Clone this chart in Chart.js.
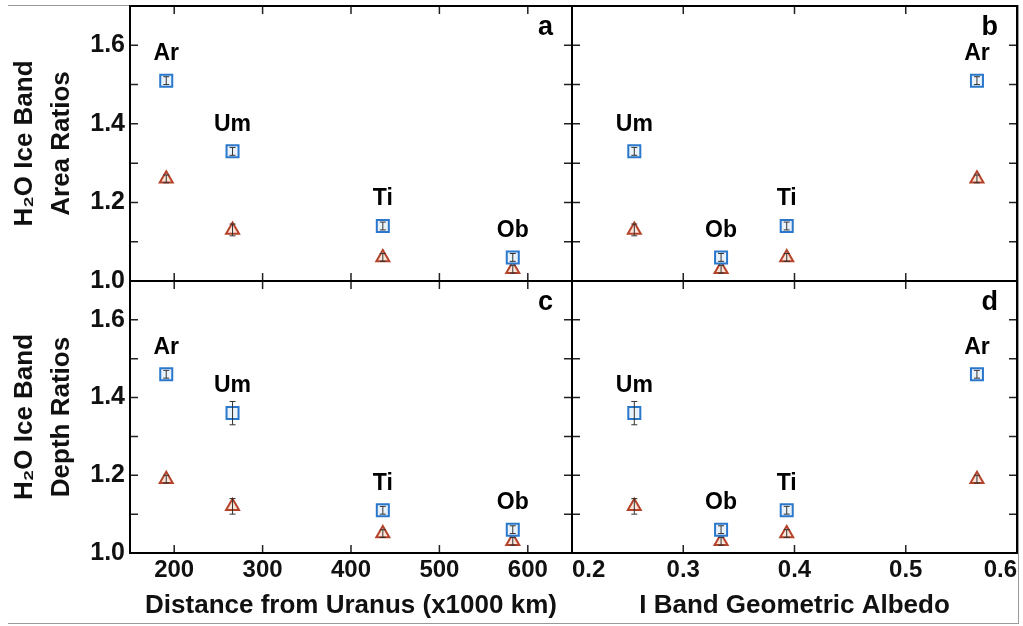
<!DOCTYPE html>
<html>
<head>
<meta charset="utf-8">
<script src="https://cdn.jsdelivr.net/npm/chart.js@4/dist/chart.umd.min.js"></script>
<style>
  body { margin: 0; background: #fff; }
  #wrap { position: relative; width: 1023px; height: 626px; overflow: hidden; }
  #wrap canvas { position: absolute; left: 0; top: 0; }
  #frame { position: absolute; left: 8px; top: 5px; width: 1010px; height: 617px;
           border-top: 1px solid #9a9a9a; border-right: 1px solid #9a9a9a; border-bottom: 1px solid #9a9a9a; }
</style>
</head>
<body>
<div id="wrap">
  <div id="frame"></div>
  <canvas id="panelA" width="1023" height="626"></canvas>
  <canvas id="panelB" width="1023" height="626"></canvas>
  <canvas id="panelC" width="1023" height="626"></canvas>
  <canvas id="panelD" width="1023" height="626"></canvas>
</div>
<script>
// moons, in the same order in every array
const moons = ['Ar', 'Um', 'Ti', 'Ob'];
const distance = [191, 266, 436, 583];        // x1000 km
const albedo = [0.564, 0.256, 0.393, 0.334];  // I band geometric albedo

// H2O ice band area ratios
const areaBlue = [1.51, 1.33, 1.14, 1.06];
const areaRed = [1.26, 1.13, 1.06, 1.03];
const areaBlueErr = [0.01, 0.01, 0.01, 0.01];
const areaRedErr = [0.01, 0.015, 0.01, 0.01];

// H2O ice band depth ratios
const depthBlue = [1.46, 1.36, 1.11, 1.06];
const depthRed = [1.19, 1.12, 1.05, 1.03];
const depthBlueErr = [0.01, 0.03, 0.01, 0.01];
const depthRedErr = [0.01, 0.02, 0.01, 0.01];

// axes
const distTicks = [200, 300, 400, 500, 600];
const albedoTicks = [0.2, 0.3, 0.4, 0.5, 0.6];
const ratioTicks = [1.0, 1.1, 1.2, 1.3, 1.4, 1.5, 1.6, 1.7];
const ratioLabels = ['1.0', '', '1.2', '', '1.4', '', '1.6', ''];

Chart.defaults.font.family = '"Liberation Sans", Arial, sans-serif';
Chart.defaults.color = '#111';

const BLUE = '#2a78cc';
const RED = '#b5432b';

function pts(xs, ys) {
  return xs.map((x, i) => ({ x: x, y: ys[i] }));
}

// border, inward ticks, error bars, moon names and panel letter
const panelDeco = {
  id: 'panelDeco',
  afterDatasetsDraw(chart, args, opts) {
    const ctx = chart.ctx;
    const a = chart.chartArea;
    const xs = chart.scales.x, ys = chart.scales.y;
    ctx.save();
    // error bars
    ctx.strokeStyle = '#333';
    ctx.lineWidth = 1;
    opts.errors.forEach((errs, di) => {
      const d = chart.data.datasets[di].data;
      d.forEach((p, i) => {
        const px = xs.getPixelForValue(p.x);
        const y1 = ys.getPixelForValue(p.y + errs[i]);
        const y2 = ys.getPixelForValue(p.y - errs[i]);
        ctx.beginPath();
        ctx.moveTo(px, y1); ctx.lineTo(px, y2);
        ctx.moveTo(px - 3, y1); ctx.lineTo(px + 3, y1);
        ctx.moveTo(px - 3, y2); ctx.lineTo(px + 3, y2);
        ctx.stroke();
      });
    });
    // inward ticks
    ctx.strokeStyle = '#222';
    ctx.lineWidth = 1.5;
    const len = 8;
    xs.ticks.forEach(t => {
      const px = xs.getPixelForValue(t.value);
      if (px <= a.left + 1 || px >= a.right - 1) return;
      ctx.beginPath();
      ctx.moveTo(px, a.bottom); ctx.lineTo(px, a.bottom - len);
      ctx.moveTo(px, a.top); ctx.lineTo(px, a.top + len);
      ctx.stroke();
    });
    ys.ticks.forEach(t => {
      const py = ys.getPixelForValue(t.value);
      if (py <= a.top + 1 || py >= a.bottom - 1) return;
      ctx.beginPath();
      ctx.moveTo(a.left, py); ctx.lineTo(a.left + len, py);
      ctx.moveTo(a.right, py); ctx.lineTo(a.right - len, py);
      ctx.stroke();
    });
    // border
    ctx.strokeStyle = '#000';
    ctx.lineWidth = 2;
    ctx.strokeRect(a.left, a.top, a.right - a.left, a.bottom - a.top);
    // moon names above the blue squares
    ctx.fillStyle = '#000';
    ctx.font = 'bold 23px "Liberation Sans", Arial, sans-serif';
    ctx.textAlign = 'center';
    ctx.textBaseline = 'middle';
    chart.data.datasets[0].data.forEach((p, i) => {
      ctx.fillText(moons[i], xs.getPixelForValue(p.x), ys.getPixelForValue(p.y) - 27);
    });
    // panel letter
    ctx.font = 'bold 27px "Liberation Sans", Arial, sans-serif';
    ctx.textAlign = 'right';
    ctx.textBaseline = 'alphabetic';
    ctx.fillText(opts.letter, a.right - 19, a.top + 29);
    ctx.restore();
  }
};

function makePanel(id, cfg) {
  const area = cfg.area;
  const yW = cfg.left ? 130 : 0;
  const xH = cfg.bottom ? 70 : 0;
  new Chart(document.getElementById(id), {
    type: 'scatter',
    data: {
      datasets: [
        { data: pts(cfg.xs, cfg.blue), pointStyle: 'rect', pointRadius: 8.5,
          borderColor: BLUE, backgroundColor: '#eaf2fb', borderWidth: 2 },
        { data: pts(cfg.xs, cfg.red), pointStyle: 'triangle', pointRadius: 7.5,
          borderColor: RED, backgroundColor: '#fbe4d8', borderWidth: 2 }
      ]
    },
    options: {
      responsive: false,
      animation: false,
      events: [],
      layout: {
        autoPadding: false,
        padding: { left: area.left - yW, top: area.top, right: 1023 - area.right, bottom: 626 - area.bottom - xH }
      },
      plugins: {
        legend: { display: false },
        tooltip: { enabled: false },
        panelDeco: { letter: cfg.letter, errors: [cfg.blueErr, cfg.redErr] }
      },
      scales: {
        x: {
          type: 'linear',
          min: cfg.xMin, max: cfg.xMax,
          grid: { display: false, drawTicks: false },
          border: { display: false },
          afterBuildTicks: s => { s.ticks = cfg.xTicks.map(v => ({ value: v })); },
          afterFit: s => { s.height = xH; s.paddingLeft = 0; s.paddingRight = 0; },
          ticks: {
            display: cfg.bottom,
            align: cfg.xAlign || 'center',
            maxRotation: 0, autoSkip: false, padding: 3,
            font: { size: 24, weight: 'bold' },
            callback: v => cfg.xFmt(v)
          },
          title: {
            display: cfg.bottom, text: cfg.xTitle,
            font: { size: 26, weight: 'bold' }, padding: { top: 0, bottom: 2 }
          }
        },
        y: {
          min: 1.0, max: 1.7,
          grid: { display: false, drawTicks: false },
          border: { display: false },
          afterBuildTicks: s => { s.ticks = ratioTicks.map(v => ({ value: v })); },
          afterFit: s => { s.width = yW; s.paddingTop = 0; s.paddingBottom = 0; },
          ticks: {
            display: cfg.left, padding: 5, autoSkip: false,
            font: { size: 25, weight: 'bold' },
            callback: (v, i) => ratioLabels[i]
          },
          title: {
            display: cfg.left, text: cfg.yTitle,
            font: { size: 26, weight: 'bold', lineHeight: 1.4 }, padding: { top: 7, bottom: 0 }
          }
        }
      }
    },
    plugins: [panelDeco]
  });
}

makePanel('panelA', {
  area: { left: 130, top: 6, right: 572, bottom: 281 }, left: true, bottom: false, letter: 'a',
  xs: distance, blue: areaBlue, red: areaRed, blueErr: areaBlueErr, redErr: areaRedErr,
  xMin: 150, xMax: 650, xTicks: distTicks, xFmt: v => String(v),
  yTitle: ['H\u2082O Ice Band', 'Area Ratios']
});
makePanel('panelB', {
  area: { left: 572, top: 6, right: 1017, bottom: 281 }, left: false, bottom: false, letter: 'b',
  xs: albedo, blue: areaBlue, red: areaRed, blueErr: areaBlueErr, redErr: areaRedErr,
  xMin: 0.2, xMax: 0.6, xTicks: albedoTicks, xFmt: v => v.toFixed(1)
});
makePanel('panelC', {
  area: { left: 130, top: 281, right: 572, bottom: 553 }, left: true, bottom: true, letter: 'c',
  xs: distance, blue: depthBlue, red: depthRed, blueErr: depthBlueErr, redErr: depthRedErr,
  xMin: 150, xMax: 650, xTicks: distTicks, xFmt: v => String(v),
  xTitle: 'Distance from Uranus (x1000 km)',
  yTitle: ['H\u2082O Ice Band', 'Depth Ratios']
});
makePanel('panelD', {
  area: { left: 572, top: 281, right: 1017, bottom: 553 }, left: false, bottom: true, letter: 'd',
  xs: albedo, blue: depthBlue, red: depthRed, blueErr: depthBlueErr, redErr: depthRedErr,
  xMin: 0.2, xMax: 0.6, xTicks: albedoTicks, xFmt: v => v.toFixed(1), xAlign: 'inner',
  xTitle: 'I Band Geometric Albedo'
});
</script>
</body>
</html>
